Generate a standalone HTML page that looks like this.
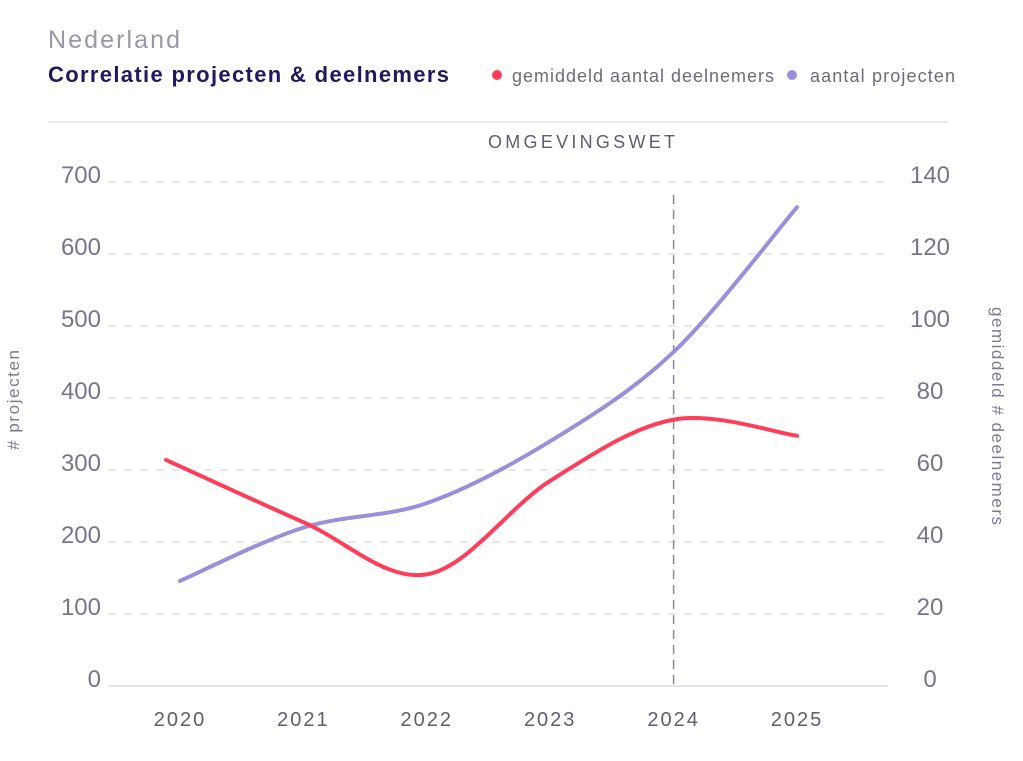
<!DOCTYPE html>
<html><head><meta charset="utf-8"><style>
body{margin:0;background:#fff;font-family:"Liberation Sans",sans-serif}
svg text{font-family:"Liberation Sans",sans-serif}
</style></head><body>
<svg width="1023" height="756">
<text x="48" y="48" font-size="25" fill="#9a98a8" textLength="132">Nederland</text>
<text x="48" y="82" font-size="22" font-weight="bold" fill="#1f1a5c" textLength="401">Correlatie projecten &amp; deelnemers</text>
<g>
<circle cx="497" cy="75" r="5" fill="#ff3d5a"/>
<text x="512" y="82" font-size="18" fill="#6d6a82" textLength="262">gemiddeld aantal deelnemers</text>
<circle cx="792" cy="75" r="5" fill="#9b8fdb"/>
<text x="810" y="82" font-size="18" fill="#6d6a82" textLength="145">aantal projecten</text>
</g>
<line x1="48" y1="122" x2="948" y2="122" stroke="#e2e1ea" stroke-width="1.5"/>
<text x="488" y="148" font-size="18" fill="#5f5c74" textLength="187">OMGEVINGSWET</text>
<g id="grid"></g><g id="axes"></g><g id="lines"></g>
<text transform="translate(19,400) rotate(-90)" font-size="17" fill="#7d7a92" text-anchor="middle" textLength="100"># projecten</text>
<text transform="translate(992,416) rotate(90)" font-size="17" fill="#7d7a92" text-anchor="middle" textLength="218">gemiddeld # deelnemers</text>
</svg>
<script>
const years=["2020","2021","2022","2023","2024","2025"];
const projecten=[146,220,254,340,464,665];
const deelnemers=[62.8,45.5,31,57,74,69.5];
const leftTicks=[0,100,200,300,400,500,600,700];
const rightTicks=[0,20,40,60,80,100,120,140];
const NS="http://www.w3.org/2000/svg";
const x=i=>180+i*123.4;
const yL=v=>686-v*0.72;
const yR=v=>686-v*3.6;
function mk(t,a,p){const e=document.createElementNS(NS,t);for(const k in a)e.setAttribute(k,a[k]);p.appendChild(e);return e;}
const grid=document.getElementById('grid'),axes=document.getElementById('axes'),lines=document.getElementById('lines');
leftTicks.forEach((v,i)=>{
 const y=yL(v);
 if(v>0){const g=mk('line',{x1:108,x2:888,y1:y,y2:y,stroke:'#e0dfe8','stroke-width':1.5,'stroke-dasharray':'8 8'},grid);
 
 }
 const t=mk('text',{x:101,y:y+1,'font-size':24,fill:'#77748d','text-anchor':'end'},axes);t.textContent=v;
 
 
});
rightTicks.forEach(v=>{
 const t=mk('text',{x:930,y:yR(v)+1,'font-size':24,fill:'#77748d','text-anchor':'middle'},axes);t.textContent=v;
 
 
});
const base=mk('line',{x1:108,x2:888,y1:686,y2:686,stroke:'#dcdbe6','stroke-width':1.5},grid);


years.forEach((yv,i)=>{
 const t=mk('text',{x:x(i),y:726,'font-size':20,fill:'#5f5c74','text-anchor':'middle','letter-spacing':2},axes);t.textContent=yv;
 
 
});
const vl=mk('line',{x1:x(4),x2:x(4),y1:195,y2:686,stroke:'#8a879c','stroke-width':1.5,'stroke-dasharray':'9 6'},grid);


function path(pts){let d=`M${pts[0][0]},${pts[0][1]}`;
 for(let i=0;i<pts.length-1;i++){const p0=pts[i-1]||pts[i],p1=pts[i],p2=pts[i+1],p3=pts[i+2]||p2;
 const c1=[p1[0]+(p2[0]-p0[0])/6,p1[1]+(p2[1]-p0[1])/6],c2=[p2[0]-(p3[0]-p1[0])/6,p2[1]-(p3[1]-p1[1])/6];
 d+=` C${c1[0]},${c1[1]} ${c2[0]},${c2[1]} ${p2[0]},${p2[1]}`;}return d;}
const pp=mk('path',{d:path(projecten.map((v,i)=>[x(i),yL(v)])),fill:'none',stroke:'#9b8fdb','stroke-width':4,'stroke-linecap':'round'},lines);


const pd=mk('path',{d:path(deelnemers.map((v,i)=>[x(i)-(i==0?14:0),yR(v)])),fill:'none',stroke:'#ff3d5a','stroke-width':4,'stroke-linecap':'round'},lines);


</script>
</body></html>
